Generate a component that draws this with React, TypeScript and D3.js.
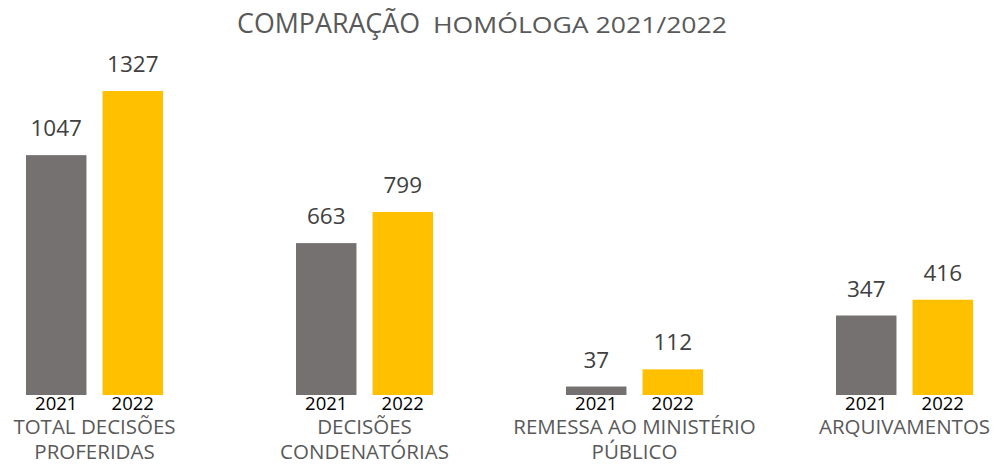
import React from 'react';
import { scaleLinear, scaleBand, scalePoint } from 'd3';

// chart data
const categories = ['TOTAL DECISÕES PROFERIDAS', 'DECISÕES CONDENATÓRIAS', 'REMESSA AO MINISTÉRIO PÚBLICO', 'ARQUIVAMENTOS'];
const categoryLines = [
  ['TOTAL DECISÕES', 'PROFERIDAS'],
  ['DECISÕES', 'CONDENATÓRIAS'],
  ['REMESSA AO MINISTÉRIO', 'PÚBLICO'],
  ['ARQUIVAMENTOS'],
];
const years = ['2021', '2022'];
const values2021 = [1047, 663, 37, 347];
const values2022 = [1327, 799, 112, 416];
const colors = ['#767171', '#FFC000'];

const W = 994;
const H = 464;
const FONT = "'Open Sans', 'Liberation Sans', sans-serif";

export default function App() {
  const series = [values2021, values2022];
  const maxV = Math.max(...values2022, ...values2021);

  const y = scaleLinear().domain([0, maxV]).range([395, 91]);
  const x0 = scalePoint<string>().domain(categories).range([94.5, 904.5]);
  const x1 = scaleBand<string>().domain(years).range([-68.5, 68.5]).paddingInner(0.21);

  return (
    <svg width={W} height={H} style={{ position: 'absolute', left: 0, top: 0, fontFamily: FONT }}>
      <rect width={W} height={H} fill="#fff" />
      <text x={237} y={33} fontSize={26.8} fill="#595959">COMPARAÇÃO</text>
      <text x={433} y={33} fontSize={21.5} fill="#595959" textLength={294} lengthAdjust="spacingAndGlyphs">
        HOMÓLOGA 2021/2022
      </text>

      {categories.map((c, ci) => (
        <g key={c} transform={`translate(${x0(c)},0)`}>
          {years.map((yr, si) => {
            const v = series[si][ci];
            const bx = x1(yr)!;
            const bw = x1.bandwidth();
            return (
              <g key={yr}>
                <rect x={bx} y={y(v)} width={bw} height={y(0) - y(v)} fill={colors[si]} />
                <text x={bx + bw / 2} y={y(v) - 19} textAnchor="middle" fontSize={22.5} fill="#404040">
                  {v}
                </text>
                <text x={bx + bw / 2} y={410} textAnchor="middle" fontSize={18.5} fill="#000">
                  {yr}
                </text>
              </g>
            );
          })}
          {categoryLines[ci].map((ln, li) => (
            <text key={li} x={0} y={433.5 + li * 25} textAnchor="middle" fontSize={20.5} fill="#595959">
              {ln}
            </text>
          ))}
        </g>
      ))}
    </svg>
  );
}
